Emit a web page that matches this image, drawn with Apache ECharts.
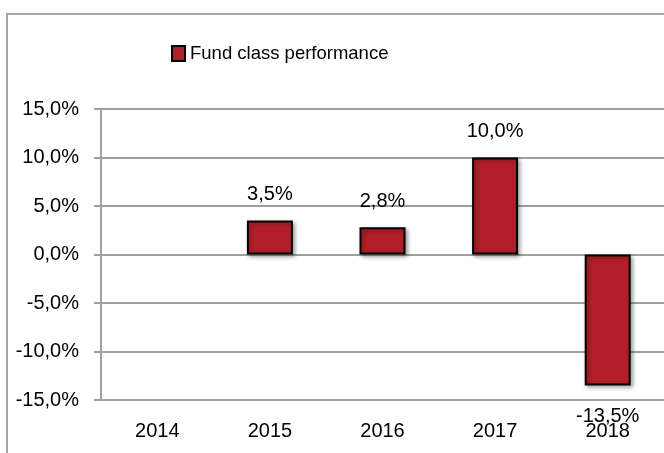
<!DOCTYPE html>
<html>
<head>
<meta charset="utf-8">
<script src="https://cdn.jsdelivr.net/npm/echarts@6/dist/echarts.min.js"></script>
<style>
  html, body { margin: 0; padding: 0; background: #fff; }
  #main { width: 664px; height: 453px; }
</style>
</head>
<body>
<div id="main"></div>
<script>
// chart data
const years = ['2014', '2015', '2016', '2017', '2018']
const performance = [null, 3.5, 2.8, 10.0, -13.5]
const yTicks = { min: -15, max: 15, step: 5 }

const fmt = v => v.toFixed(1).replace('.', ',') + '%'
const font = 'Liberation Sans'

let myChart = echarts.init(document.getElementById('main'))
let option = {
  animation: false,
  textStyle: { fontFamily: font },
  graphic: [
    {
      type: 'rect',
      shape: { x: 7, y: 14, width: 700, height: 500 },
      style: { fill: 'none', stroke: '#a6a6a6', lineWidth: 2 },
      z: -1
    }
  ],
  legend: {
    data: ['Fund class performance'],
    left: 166,
    top: 39,
    icon: 'rect',
    itemWidth: 13,
    itemHeight: 15,
    itemStyle: { borderColor: '#000', borderWidth: 2 },
    textStyle: { fontFamily: font, fontSize: 18.5, color: '#000' }
  },
  grid: {
    left: 101,
    top: 109,
    right: -4,
    bottom: 53
  },
  xAxis: [
    {
      type: 'category',
      data: years,
      axisLine: { onZero: true, lineStyle: { color: '#a0a0a0', width: 2 } },
      axisTick: { length: 7, lineStyle: { color: '#a0a0a0', width: 2 } },
      axisLabel: { show: false }
    },
    {
      type: 'category',
      data: years,
      position: 'bottom',
      axisLine: { show: false },
      axisTick: { show: false },
      axisLabel: { margin: 21, fontFamily: font, fontSize: 20, color: '#000' }
    }
  ],
  yAxis: {
    type: 'value',
    min: yTicks.min,
    max: yTicks.max,
    interval: yTicks.step,
    axisLine: { show: true, lineStyle: { color: '#a0a0a0', width: 2 } },
    axisTick: { show: true, length: 7, lineStyle: { color: '#a0a0a0', width: 2 } },
    axisLabel: {
      margin: 22,
      formatter: fmt,
      fontFamily: font,
      fontSize: 20,
      color: '#000'
    },
    splitLine: { lineStyle: { color: '#a0a0a0', width: 2 } }
  },
  series: [
    {
      name: 'Fund class performance',
      type: 'bar',
      barWidth: 46,
      data: performance.map(v => v == null ? null : {
        value: v,
        label: v < 0 ? { position: 'bottom', distance: 21 } : { position: 'top' }
      }),
      itemStyle: {
        color: '#b31f28',
        borderColor: '#000',
        borderWidth: 2,
        shadowColor: 'rgba(0,0,0,0.35)',
        shadowBlur: 4,
        shadowOffsetX: 2,
        shadowOffsetY: 2
      },
      label: {
        show: true,
        distance: 16,
        formatter: p => fmt(p.value),
        fontFamily: font,
        fontSize: 20,
        color: '#000'
      }
    }
  ]
}
myChart.setOption(option, true)
</script>
</body>
</html>
